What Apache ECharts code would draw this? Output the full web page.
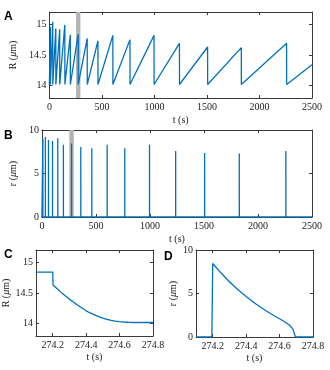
<!DOCTYPE html>
<html>
<head>
<meta charset="utf-8">
<script src="https://cdn.jsdelivr.net/npm/echarts@6/dist/echarts.min.js"></script>
<style>html,body{margin:0;padding:0;background:#fff;}#c{width:330px;height:370px;}</style>
</head>
<body>
<div id="c"></div>
<script>
// ---- Data ----
var spikeTimes = [9, 32, 61, 98, 147, 199, 274.2, 360, 462, 604, 767, 996, 1238, 1506, 1827, 2258];
var peakR      = [14.96, 15.04, 14.93, 14.92, 14.99, 14.83, 14.84, 14.77, 14.73, 14.82, 14.75, 14.82, 14.69, 14.63, 14.62, 14.69];
var troughR    = [14.02, 14.02, 14.02, 14.02, 14.02, 14.02, 14.02, 14.02, 14.02, 14.02, 14.02, 14.02, 14.02, 14.02, 14.02, 14.02];
var peakr      = [9.0, 9.2, 8.85, 8.75, 9.05, 8.3, 8.45, 8.05, 7.9, 8.3, 7.9, 8.3, 7.6, 7.35, 7.3, 7.6];
var startT = 0, startR = 14.02, endT = 2500, endR = 14.34;
var eventDuration = 0.5;
var bandRange = [254, 295];

var zoomT  = [274.1, 274.2, 274.202, 274.21, 274.23, 274.25, 274.275, 274.3, 274.325, 274.35, 274.375, 274.4, 274.425, 274.45, 274.475, 274.5, 274.525, 274.55, 274.575, 274.6, 274.625, 274.65, 274.7, 274.8];
var zoomR  = [14.84, 14.84, 14.63, 14.605, 14.56, 14.51, 14.455, 14.40, 14.35, 14.30, 14.255, 14.21, 14.175, 14.145, 14.115, 14.09, 14.07, 14.055, 14.043, 14.035, 14.028, 14.024, 14.02, 14.02];
var zoomrT = [274.1, 274.195, 274.2, 274.25, 274.3, 274.35, 274.4, 274.45, 274.5, 274.55, 274.6, 274.63, 274.66, 274.68, 274.69, 274.695, 274.8];
var zoomr  = [0, 0, 8.45, 7.35, 6.35, 5.45, 4.65, 3.9, 3.25, 2.65, 2.1, 1.75, 1.35, 0.9, 0.3, 0, 0];

var ticksRA = [14, 14.5, 15];
var ticksrB = [0, 5, 10];
var ticksTC = [274.2, 274.4, 274.6, 274.8];

// ---- Build series data ----
var dataA = [[startT, startR]];
var dataB = [[startT, 0]];
for (var i = 0; i < spikeTimes.length; i++) {
  dataA.push([spikeTimes[i], peakR[i]]);
  dataA.push([spikeTimes[i] + eventDuration, troughR[i]]);
  dataB.push([spikeTimes[i], 0]);
  dataB.push([spikeTimes[i], peakr[i]]);
  dataB.push([spikeTimes[i] + eventDuration, 0]);
}
dataA.push([endT, endR]);
dataB.push([endT, 0]);
var dataC = zoomT.map(function (t, k) { return [t, zoomR[k]]; });
var dataD = zoomrT.map(function (t, k) { return [t, zoomr[k]]; });

var BLUE = '#0072BD';
var AX = '#3a3a3a';
var FONT = 'Liberation Serif';

function xAx(grid, min, max, opt, top) {
  var a = {
    type: 'value', gridIndex: grid, min: min, max: max, position: top ? 'top' : 'bottom',
    splitLine: { show: false },
    axisLine: { show: true, onZero: false, lineStyle: { color: AX, width: 1 } },
    axisTick: { show: true, inside: true, length: 3, lineStyle: { color: AX } },
    axisLabel: { show: !top, color: '#222', fontFamily: FONT, fontSize: 10, margin: 4,
                 formatter: opt.fmt || function (v) { return String(v); } }
  };
  if (opt.interval) a.interval = opt.interval;
  if (opt.custom) { a.axisTick.customValues = opt.custom; a.axisLabel.customValues = opt.custom; }
  if (!top) {
    a.name = 't (s)'; a.nameLocation = 'middle'; a.nameGap = opt.nameGap || 17;
    a.nameTextStyle = { fontFamily: FONT, fontSize: 10, color: '#222' };
  }
  return a;
}
function yAx(grid, min, max, opt, right) {
  var a = {
    type: 'value', gridIndex: grid, min: min, max: max, position: right ? 'right' : 'left',
    splitLine: { show: false },
    axisLine: { show: true, onZero: false, lineStyle: { color: AX, width: 1 } },
    axisTick: { show: true, inside: true, length: 3, lineStyle: { color: AX } },
    axisLabel: { show: !right, color: '#222', fontFamily: FONT, fontSize: 10, margin: 3,
                 formatter: function (v) { return String(v); } }
  };
  if (opt.interval) a.interval = opt.interval;
  if (opt.custom) { a.axisTick.customValues = opt.custom; a.axisLabel.customValues = opt.custom; }
  if (!right) {
    a.name = opt.name; a.nameLocation = 'middle'; a.nameGap = opt.nameGap || 18;
    a.nameTextStyle = {
      fontFamily: FONT, fontSize: 10, color: '#222',
      rich: { n: { fontFamily: FONT, fontSize: 10, color: '#222' },
              i: { fontFamily: FONT, fontSize: 10, fontStyle: 'italic', color: '#222' } }
    };
  }
  return a;
}
var Rname = '{n|R (}{i|μ}{n|m)}';
var rname = '{n|r (}{i|μ}{n|m)}';
var fmtC = function (v) { return (+v).toFixed(1); };

var option = {
  animation: false,
  backgroundColor: '#fff',
  grid: [
    { left: 36, top: 12, width: 276, height: 86 },
    { left: 36, top: 130, width: 276, height: 87 },
    { left: 36, top: 250, width: 117, height: 86 },
    { left: 196, top: 250, width: 117, height: 87 }
  ],
  xAxis: [
    xAx(0, 0, 2500, { interval: 500, nameGap: 17 }, false),
    xAx(0, 0, 2500, { interval: 500 }, true),
    xAx(1, 0, 2500, { interval: 500, nameGap: 17 }, false),
    xAx(1, 0, 2500, { interval: 500 }, true),
    xAx(2, 274.1, 274.8, { custom: ticksTC, nameGap: 16, fmt: fmtC }, false),
    xAx(2, 274.1, 274.8, { custom: ticksTC }, true),
    xAx(3, 274.1, 274.8, { custom: ticksTC, nameGap: 16, fmt: fmtC }, false),
    xAx(3, 274.1, 274.8, { custom: ticksTC }, true)
  ],
  yAxis: [
    yAx(0, 13.8, 15.2, { custom: ticksRA, name: Rname, nameGap: 22 }, false),
    yAx(0, 13.8, 15.2, { custom: ticksRA }, true),
    yAx(1, 0, 10, { custom: ticksrB, name: rname, nameGap: 18 }, false),
    yAx(1, 0, 10, { custom: ticksrB }, true),
    yAx(2, 13.8, 15.2, { custom: ticksRA, name: Rname, nameGap: 22 }, false),
    yAx(2, 13.8, 15.2, { custom: ticksRA }, true),
    yAx(3, 0, 10, { custom: ticksrB, name: rname, nameGap: 18 }, false),
    yAx(3, 0, 10, { custom: ticksrB }, true)
  ],
  series: [
    { type: 'line', xAxisIndex: 0, yAxisIndex: 0, data: [], z: 1, silent: true,
      markArea: { silent: true, itemStyle: { color: '#b3b3b3' }, data: [[{ xAxis: bandRange[0] }, { xAxis: bandRange[1] }]] } },
    { type: 'line', xAxisIndex: 2, yAxisIndex: 2, data: [], z: 1, silent: true,
      markArea: { silent: true, itemStyle: { color: '#b3b3b3' }, data: [[{ xAxis: bandRange[0] }, { xAxis: bandRange[1] }]] } },
    { type: 'line', xAxisIndex: 0, yAxisIndex: 0, data: dataA, showSymbol: false, z: 5,
      lineStyle: { color: BLUE, width: 1.3 } },
    { type: 'line', xAxisIndex: 2, yAxisIndex: 2, data: dataB, showSymbol: false, z: 5,
      lineStyle: { color: BLUE, width: 1.3 } },
    { type: 'line', xAxisIndex: 4, yAxisIndex: 4, data: dataC, showSymbol: false,
      lineStyle: { color: BLUE, width: 1.3 } },
    { type: 'line', xAxisIndex: 6, yAxisIndex: 6, data: dataD, showSymbol: false,
      lineStyle: { color: BLUE, width: 1.3 } }
  ],
  graphic: [
    { type: 'text', left: 4, top: 11, style: { text: 'A', font: 'bold 12px "Liberation Sans"', fill: '#000' } },
    { type: 'text', left: 4, top: 130, style: { text: 'B', font: 'bold 12px "Liberation Sans"', fill: '#000' } },
    { type: 'text', left: 4, top: 249, style: { text: 'C', font: 'bold 12px "Liberation Sans"', fill: '#000' } },
    { type: 'text', left: 164, top: 251, style: { text: 'D', font: 'bold 12px "Liberation Sans"', fill: '#000' } }
  ]
};
var chart = echarts.init(document.getElementById('c'), null, { renderer: 'canvas' });
chart.setOption(option);
</script>
</body>
</html>
